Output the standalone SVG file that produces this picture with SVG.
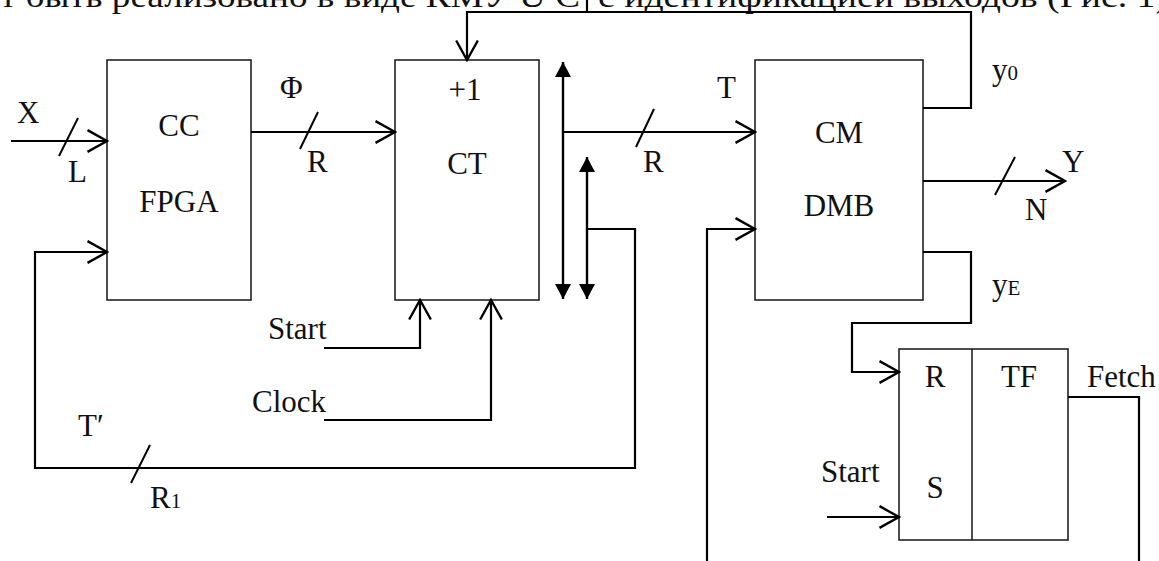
<svg xmlns="http://www.w3.org/2000/svg" width="1159" height="561" viewBox="0 0 1159 561">
<style>
text{font-family:"Liberation Serif","Times New Roman",serif;font-size:31px;fill:#111}
.c{text-anchor:middle}
.sub{font-size:21px}
.box{fill:#fff;stroke:#222;stroke-width:1.6}
.w{fill:none;stroke:#000;stroke-width:2.2}
.sl{stroke:#000;stroke-width:2}
.oa{marker-end:url(#oa)}
.bus{fill:none;stroke:#000;stroke-width:2.4;marker-start:url(#fa);marker-end:url(#fa)}
</style>
<defs>
<marker id="oa" markerUnits="userSpaceOnUse" markerWidth="24" markerHeight="26" viewBox="-20 -12 22 24" refX="0" refY="0" orient="auto">
<path d="M-18,-10 L0,0 L-18,10" fill="none" stroke="#000" stroke-width="2.2"/>
</marker>
<marker id="fa" markerUnits="userSpaceOnUse" markerWidth="18" markerHeight="18" viewBox="-16 -9 18 18" refX="0" refY="0" orient="auto-start-reverse">
<path d="M-15,-8 L0,0 L-15,8 Z" fill="#000"/>
</marker>
</defs>
<g id="header">
<text x="0" y="7" textLength="580" lengthAdjust="spacingAndGlyphs">т быть реализовано в виде КМУ U С</text>
<text x="598" y="7" textLength="570" lengthAdjust="spacingAndGlyphs">с идентификацией выходов (Рис. 1)</text>
</g>
<g id="CC">
<rect class="box" x="107" y="60" width="144" height="240"/>
<text class="c" x="179" y="136">CC</text>
<text class="c" x="179" y="212">FPGA</text>
</g>
<g id="CT">
<rect class="box" x="395" y="60" width="144" height="240"/>
<text class="c" x="465" y="100">+1</text>
<text class="c" x="467" y="174">CT</text>
</g>
<g id="CM">
<rect class="box" x="755" y="60" width="168" height="240"/>
<text class="c" x="839" y="143">CM</text>
<text class="c" x="839" y="216">DMB</text>
</g>
<g id="TF">
<rect class="box" x="899" y="349" width="169" height="191"/>
<line x1="972" y1="349" x2="972" y2="540" stroke="#222" stroke-width="1.6"/>
<text class="c" x="935" y="387">R</text>
<text class="c" x="1019" y="387">TF</text>
<text class="c" x="935" y="498">S</text>
</g>
<g id="connectors">
<path class="w oa" d="M11,141 H107"/>
<line class="sl" x1="59" y1="156" x2="78" y2="118"/>
<path class="w oa" d="M587,229 H635 V468 H35 V252 H107"/>
<line class="sl" x1="131" y1="483" x2="150" y2="445"/>
<path class="w oa" d="M251,132 H395"/>
<line class="sl" x1="300" y1="149" x2="318" y2="112"/>
<path class="bus" d="M563,62 V299"/>
<path class="bus" d="M587,157 V299"/>
<path class="w oa" d="M563,132 H755"/>
<line class="sl" x1="636" y1="147" x2="654" y2="109"/>
<path class="w oa" d="M707,561 V229 H755"/>
<path class="w oa" d="M923,108 H971 V12 H467 V60"/>
<path class="w" d="M587,0 V12"/>
<path class="w oa" d="M923,181 H1065"/>
<line class="sl" x1="995" y1="195" x2="1015" y2="157"/>
<path class="w oa" d="M923,252 H971 V323 H852 V372 H899"/>
<path class="w oa" d="M827,517 H899"/>
<path class="w" d="M1068,397 H1139 V561"/>
<path class="w oa" d="M324,348 H420 V300"/>
<path class="w oa" d="M324,420 H491 V300"/>
</g>
<g id="labels">
<text x="17" y="123">X</text>
<text x="68" y="182">L</text>
<text x="280" y="98">Φ</text>
<text x="307" y="172">R</text>
<text x="643" y="172">R</text>
<text x="717" y="98">T</text>
<text x="992" y="80">y<tspan class="sub">0</tspan></text>
<text x="1062" y="172">Y</text>
<text x="1025" y="220">N</text>
<text x="992" y="295">y<tspan class="sub">E</tspan></text>
<text x="268" y="339">Start</text>
<text x="252" y="412">Clock</text>
<text x="78" y="436">T′</text>
<text x="150" y="508">R<tspan class="sub">1</tspan></text>
<text x="821" y="482">Start</text>
<text x="1087" y="387">Fetch</text>
</g>
</svg>
